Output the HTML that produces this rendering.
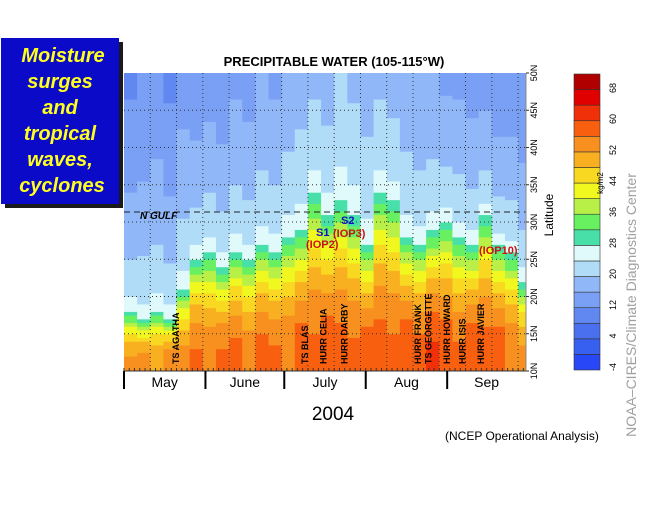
<!DOCTYPE html>
<html><head><meta charset="utf-8"><style>
body{margin:0;background:#fff;width:667px;height:500px;overflow:hidden;font-family:"Liberation Sans",sans-serif}
</style></head><body>
<svg width="667" height="500" xmlns="http://www.w3.org/2000/svg">
<rect x="5" y="42" width="118" height="166" fill="#1a1a1a"/>
<rect x="1" y="38" width="118" height="166" fill="#0a0ac8"/>
<g font-size="20" font-weight="bold" font-style="italic" fill="#ffff20" text-anchor="middle">
<text x="63" y="62">Moisture</text><text x="60" y="88">surges</text><text x="60" y="114">and</text><text x="60" y="140">tropical</text><text x="60" y="166">waves,</text><text x="62" y="192">cyclones</text>
</g>
<text x="334" y="66" font-size="13" font-weight="bold" text-anchor="middle">PRECIPITABLE WATER (105-115°W)</text>
<g id="field"></g>
<g id="grid"></g>
<line x1="124" x2="526" y1="212" y2="212" stroke="#222" stroke-dasharray="6,4"/>
<text x="140" y="219" font-size="10" font-weight="bold" font-style="italic">N GULF</text>
<g font-size="11" font-weight="bold">
<text x="316" y="236" fill="#1010c0">S1</text><text x="341" y="224" fill="#1010c0">S2</text>
<text x="306" y="248" fill="#d01010">(IOP2)</text><text x="333" y="237" fill="#d01010">(IOP3)</text>
<text x="479" y="254" fill="#d01010">(IOP10)</text>
</g>
<g id="storms" font-size="9" font-weight="bold"></g>
<g id="axes"></g>
<text x="553" y="215" font-size="12" transform="rotate(-90 553 215)" text-anchor="middle">Latitude</text>
<g id="cbar"></g>
<text x="600" y="180" font-size="8" transform="rotate(-90 603 180)" text-anchor="middle">kg/m2</text>
<text x="636" y="305" font-size="14" fill="#a0a0a0" transform="rotate(-90 636 305)" text-anchor="middle">NOAA–CIRES/Climate Diagnostics Center</text>
<text x="333" y="420" font-size="19" text-anchor="middle">2004</text>
<text x="445" y="440" font-size="12">(NCEP Operational Analysis)</text>
</svg>
<script>
const days=[0,5,10,15,20,25,30,35,40,45,50,55,60,65,70,75,80,85,90,95,100,105,110,115,120,125,130,135,140,145,150];
const edgeLat=[18,17,18,17,21,25,26,24,26,25,27,26,28,29,34,31,33,31,27,34,33,28,27,29,30,28,27,31,27,26,22];
const southPW=[53,55,52,56,54,57,55,57,58,55,58,57,56,59,57,59,58,57,59,58,57,60,58,61,59,57,60,58,59,56,54];
const northPW=[11,12,13,11,14,13,14,13,15,14,16,15,17,18,19,18,20,19,18,19,18,17,16,16,15,15,14,14,13,13,12];
const levels=[-4,0,4,8,12,16,20,24,28,32,36,40,44,48,52,56,60,64,68];
const colors=["#2848f8","#3860f0","#4a70f0","#6088f0","#7aa0f5","#90b8f8","#b0dcf8","#e0fafc","#48e0a8","#68f060","#b8f048","#f0f820","#f8d820","#f8b020","#f89020","#f86010","#f03008","#e00000","#b00000"];
const cbarLabels=[-4,4,12,20,28,36,44,52,60,68];
const tickLats=[10,15,20,25,30,35,40,45,50];
const months=["May","June","July","Aug","Sep"];
const monthStart=[0,31,61,92,123];
const storms=["TS AGATHA","TS BLAS","HURR CELIA","HURR DARBY","HURR FRANK","TS GEORGETTE","HURR HOWARD","HURR ISIS","HURR JAVIER"];
const stormDay=[21,70,77,85,113,117,124,130,137];
const NS="http://www.w3.org/2000/svg";
const X0=124,X1=526,Y0=371,Y1=73,TOT=153;
const xs=d=>X0+d*(X1-X0)/TOT, ys=l=>Y0-(l-10)*(Y0-Y1)/40;
function col(v){let i=0;for(let k=0;k<levels.length;k++)if(v>=levels[k])i=k;return colors[i];}
function mk(t,a,p){const e=document.createElementNS(NS,t);for(const k in a)e.setAttribute(k,a[k]);p.appendChild(e);return e;}
const F=document.getElementById('field');
days.forEach((d,i)=>{
  const x=xs(d), w=xs(d+5)-x+0.5, e=edgeLat[i], s=southPW[i], n=northPW[i];
  for(let lat=10;lat<50;lat+=0.5){
    const lc=lat+0.25;let v;
    if(lc<=e) v=s+(28-s)*Math.pow((lc-10)/(e-10),2.2);
    else v=28-(28-n)*Math.pow(Math.min(1,(lc-e)/(50-e)),0.5);
    const r=mk('rect',{x:x,y:ys(lat+0.5),width:Math.min(w,X1-x),height:ys(lat)-ys(lat+0.5)+0.5,fill:col(v)},F);
    
    
  }
});
const G=document.getElementById('grid');
tickLats.slice(1,-1).forEach(l=>{const g=mk('line',{x1:X0,x2:X1,y1:ys(l),y2:ys(l),stroke:"#333","stroke-dasharray":"1,3"},G);
});
for(let d=10;d<TOT;d+=10){const g=mk('line',{x1:xs(d),x2:xs(d),y1:Y1,y2:Y0,stroke:"#333","stroke-dasharray":"1,3"},G);
}
const A=document.getElementById('axes');
for(let d=0;d<=TOT;d+=2){const t=mk('line',{x1:xs(d),x2:xs(d),y1:Y0-3,y2:Y0,stroke:"#333"},A);}
mk('line',{x1:X0,x2:X1,y1:Y0,y2:Y0,stroke:"#333"},A);
mk('line',{x1:X1,x2:X1,y1:Y1,y2:Y0,stroke:"#888"},A);
months.forEach((m,i)=>{
  const x=xs(monthStart[i]);
  const l=mk('line',{x1:x,x2:x,y1:Y0,y2:Y0+18,stroke:"#000","stroke-width":2},A);
  
  const nx=i<4?xs(monthStart[i+1]):X1;
  const t=mk('text',{x:(x+nx)/2,y:Y0+16,"font-size":14,"text-anchor":"middle"},A);t.textContent=m;
  
});
tickLats.forEach(l=>{
  const t=mk('text',{x:537,y:ys(l),"font-size":9,"text-anchor":"middle",transform:`rotate(-90 537 ${ys(l)})`},A);t.textContent=l+"N";
  
  const k=mk('line',{x1:X1,x2:X1+3,y1:ys(l),y2:ys(l),stroke:"#333"},A);
});
const S=document.getElementById('storms');
storms.forEach((s,i)=>{const x=xs(stormDay[i]);
  const t=mk('text',{x:x,y:364,transform:`rotate(-90 ${x} 364)`},S);t.textContent=s;
  });
const C=document.getElementById('cbar');
const CB0=370,CB1=74,bh=(CB0-CB1)/levels.length;
levels.forEach((lv,i)=>{
  const r=mk('rect',{x:574,y:CB0-(i+1)*bh,width:26,height:bh,fill:colors[i],stroke:"#333","stroke-width":0.6},C);
  
});
cbarLabels.forEach(v=>{
  const y=367-(v+4)/72*279;
  const t=mk('text',{x:616,y:y,"font-size":9,"text-anchor":"middle",transform:`rotate(-90 616 ${y})`},C);t.textContent=v;
  
});
</script>
</body></html>
